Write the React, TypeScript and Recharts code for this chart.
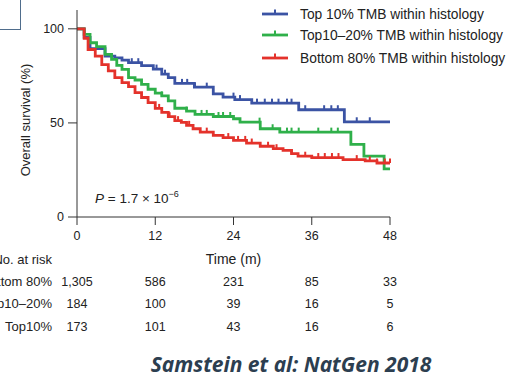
import { ComposedChart, Line, Scatter, XAxis, YAxis } from "recharts";

// Kaplan–Meier estimates (months, % surviving) for each TMB group
const top10Times = [0, 1.1, 2.0, 4.3, 5.8, 6.9, 7.9, 9.9, 11.7, 13.0, 14.0, 15.0, 18.0, 20.9, 22.4, 24.2, 26.8, 34.0, 41.0];
const top10Surv = [100, 95.5, 89.5, 85.5, 84.6, 83.4, 82, 80.4, 78.6, 75.9, 74.1, 71, 69, 65.4, 63.7, 62.4, 60.5, 57, 50.6];
const top10Censor = [8.4, 9.4, 12.2, 13.5, 16.1, 16.9, 18.1, 19.9, 24.0, 25.0, 27.6, 28.8, 29.9, 30.9, 32.2, 32.9, 35.0, 37.9, 39.0, 40.0, 42.9, 44.9];

const top1020Times = [0, 1.1, 2.0, 3.0, 4.3, 5.3, 6.1, 6.9, 7.9, 8.9, 9.9, 10.9, 12.0, 13.0, 14.0, 15.0, 16.8, 18.1, 20.9, 24.0, 25.0, 28.1, 31.1, 42.0, 44.0, 47.1];
const top1020Surv = [100, 97, 92.6, 90.5, 86.4, 83.8, 80.6, 78.5, 74.1, 72.8, 70.5, 67.9, 65.8, 64.4, 61.7, 57.8, 56.3, 54.5, 53.4, 52.2, 50.4, 46.9, 45.1, 38.6, 32.3, 25.6];
const top1020Censor = [13.0, 16.8, 19.1, 19.9, 21.7, 22.4, 23.5, 28.0, 30.0, 32.2, 32.9, 34.0, 37.0, 39.0, 40.0];

const bottom80Times = [0, 1.1, 1.7, 2.8, 3.8, 4.8, 5.8, 6.9, 7.9, 8.9, 9.9, 10.9, 12.0, 13.0, 14.0, 15.0, 16.0, 16.8, 17.8, 18.9, 20.9, 22.4, 24.0, 26.0, 28.1, 30.1, 31.6, 32.9, 33.9, 36.0, 40.8, 44.2, 46.0];
const bottom80Surv = [100, 95, 89, 85.5, 81, 77.6, 74.1, 71.4, 69.3, 66.1, 63.5, 60.8, 57.7, 55.6, 53.3, 51.2, 50.3, 48.7, 46.9, 45.1, 43.4, 42.2, 40.7, 39.3, 37.6, 36.3, 35.4, 33.7, 32.3, 31.6, 30.5, 29.8, 28.7];
const bottom80Censor = [12.6, 14.2, 15.5, 17.2, 19.9, 23.2, 24.7, 25.8, 26.8, 29.3, 30.6, 32.9, 35.0, 37.0, 38.0, 39.1, 40.1, 42.9, 44.9, 46.0, 47.2, 48.0];

const TIME_TICKS = [0, 12, 24, 36, 48];
const SURV_TICKS = [0, 50, 100];

const riskLabels = ["Bottom 80%", "Top10–20%", "Top10%"];
const riskBottom80 = [1305, 586, 231, 85, 33];
const riskTop1020 = [184, 100, 39, 16, 5];
const riskTop10 = [173, 101, 43, 16, 6];

const legendLabels = ["Top 10% TMB within histology", "Top10–20% TMB within histology", "Bottom 80% TMB within histology"];

const BLUE = "#3b53a4";
const GREEN = "#2fb04a";
const RED = "#e4322b";

const W = 506;
const H = 374;
const PLOT_LEFT = 77;
const PLOT_RIGHT = 390;
const FONT = "'Liberation Sans', Arial, sans-serif";

const toPoints = (times: number[], surv: number[]) => {
  const pts = times.map((t, i) => ({ t, s: surv[i] }));
  pts.push({ t: 48, s: surv[surv.length - 1] });
  return pts;
};

const survAt = (times: number[], surv: number[], t: number) => {
  let v = surv[0];
  times.forEach((tt, i) => {
    if (tt <= t) v = surv[i];
  });
  return v;
};

const censorPoints = (times: number[], surv: number[], censor: number[]) =>
  censor.map((t) => ({ t, s: survAt(times, surv, t) }));

const series = [
  { name: "top10", color: BLUE, line: toPoints(top10Times, top10Surv), marks: censorPoints(top10Times, top10Surv, top10Censor) },
  { name: "top1020", color: GREEN, line: toPoints(top1020Times, top1020Surv), marks: censorPoints(top1020Times, top1020Surv, top1020Censor) },
  { name: "bottom80", color: RED, line: toPoints(bottom80Times, bottom80Surv), marks: censorPoints(bottom80Times, bottom80Surv, bottom80Censor) },
];

const xPos = (t: number) => PLOT_LEFT + (t / 48) * (PLOT_RIGHT - PLOT_LEFT);

const censorShape = (color: string) => (props: any) => (
  <line x1={props.cx} x2={props.cx} y1={props.cy} y2={props.cy - 4.5} stroke={color} strokeWidth={2} />
);

const legendRows = [
  { color: BLUE, y: 14 },
  { color: GREEN, y: 35 },
  { color: RED, y: 58 },
];

const riskRows = [riskBottom80, riskTop1020, riskTop10];
const riskRowY = [286, 308, 331];

const App = () => {
  const tickStyle = { fontSize: 12.5, fill: "#222", fontFamily: FONT };
  return (
    <div style={{ position: "fixed", left: 0, top: 0, width: W, height: H, overflow: "hidden", background: "#fff" }}>
      {/* slide frame corner */}
      <div style={{ position: "absolute", left: -20, top: -20, width: 39, height: 48, border: "1.5px solid #4f6d8c" }} />
      <ComposedChart width={W} height={H} margin={{ top: 10, right: 116, bottom: 137, left: 37 }}>
        <XAxis
          type="number"
          dataKey="t"
          domain={[0, 48]}
          ticks={TIME_TICKS}
          allowDuplicatedCategory={false}
          height={20}
          tickSize={8}
          tickMargin={6}
          stroke="#333"
          tick={tickStyle}
        />
        <YAxis
          type="number"
          dataKey="s"
          domain={[0, 110]}
          ticks={SURV_TICKS}
          width={40}
          tickSize={9}
          tickMargin={4}
          stroke="#333"
          tick={tickStyle}
        />
        {series.map((s) => (
          <Line
            key={s.name}
            data={s.line}
            dataKey="s"
            type="stepAfter"
            stroke={s.color}
            strokeWidth={2.8}
            dot={false}
            isAnimationActive={false}
          />
        ))}
        {series.map((s) => (
          <Scatter
            key={s.name + "-censor"}
            data={s.marks}
            dataKey="s"
            shape={censorShape(s.color)}
            isAnimationActive={false}
          />
        ))}
      </ComposedChart>
      <svg width={W} height={H} style={{ position: "absolute", left: 0, top: 0, pointerEvents: "none" }} fontFamily={FONT}>
        {/* legend */}
        {legendRows.map((r, i) => (
          <g key={i}>
            <line x1={262} x2={288} y1={r.y} y2={r.y} stroke={r.color} strokeWidth={2.8} />
            <line x1={275} x2={275} y1={r.y} y2={r.y - 4.5} stroke={r.color} strokeWidth={2} />
            <text x={300} y={r.y + 5} fontSize={13.8} fill="#222">
              {legendLabels[i]}
            </text>
          </g>
        ))}
        <text transform="translate(30,120) rotate(-90)" textAnchor="middle" fontSize={13} fill="#222">
          Overall survival (%)
        </text>
        <text x={95} y={203} fontSize={13.5} fill="#222">
          <tspan fontStyle="italic">P</tspan>
          <tspan> = 1.7 × 10</tspan>
          <tspan fontSize={9} dy={-6}>−6</tspan>
        </text>
        <text x={xPos(24)} y={264} textAnchor="middle" fontSize={14} fill="#222">
          Time (m)
        </text>
        <text x={52} y={264} textAnchor="end" fontSize={13} fill="#222">
          No. at risk
        </text>
        {riskRows.map((row, ri) => (
          <g key={ri}>
            <text x={52} y={riskRowY[ri]} textAnchor="end" fontSize={13} fill="#222">
              {riskLabels[ri]}
            </text>
            {row.map((n, ci) => (
              <text key={ci} x={xPos(TIME_TICKS[ci])} y={riskRowY[ri]} textAnchor="middle" fontSize={12.5} fill="#222">
                {n.toLocaleString("en-US")}
              </text>
            ))}
          </g>
        ))}
        <text
          x={291}
          y={372}
          textAnchor="middle"
          fontSize={21}
          fontWeight="bold"
          fontStyle="italic"
          fill="#2c3e50"
          fontFamily="'Open Sans', sans-serif"
        >
          Samstein et al: NatGen 2018
        </text>
      </svg>
    </div>
  );
};

export default App;
